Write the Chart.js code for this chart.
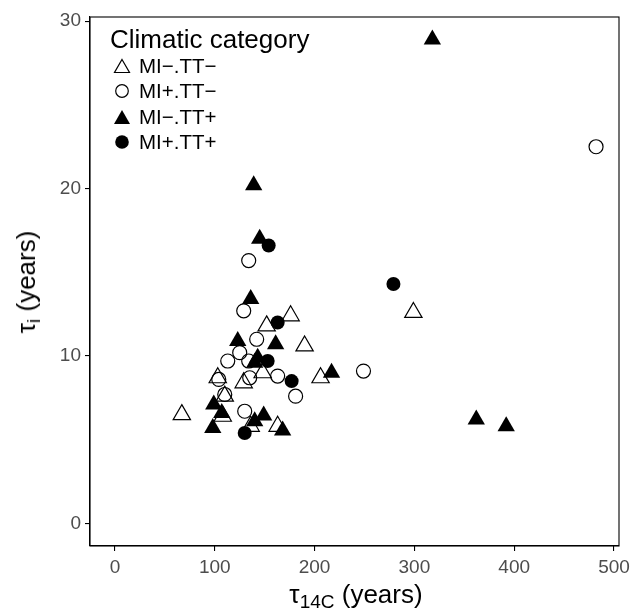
<!DOCTYPE html>
<html>
<head>
<meta charset="utf-8">
<script src="https://cdn.jsdelivr.net/npm/chart.js@4.4.1/dist/chart.umd.min.js"></script>
<style>
  html, body { margin: 0; padding: 0; background: #fff; }
  #wrap { position: relative; width: 635px; height: 614px; font-family: "Liberation Sans", Arial, sans-serif; }
  #c { position: absolute; left: 0; top: 0; }
  .lg { position: absolute; color: #000; white-space: nowrap; }
  .lg-title { left: 110px; top: 24px; font-size: 26px; line-height: 30px; }
  .lg-item { left: 113px; font-size: 20.5px; line-height: 24px; height: 24px; }
  .lg-item svg { position: absolute; left: 0; top: 4px; }
  .lg-item span { position: absolute; left: 26px; top: 0; }
  .axt { position: absolute; font-size: 26px; line-height: 30px; color: #000; white-space: nowrap; }
  .axt sub { font-size: 19px; vertical-align: -5px; }
</style>
</head>
<body>
<div id="wrap">
  <canvas id="c" width="635" height="614"></canvas>
  <div class="lg lg-title">Climatic category</div>
  <div class="lg lg-item" style="top:54px"><svg width="18" height="16"><polygon points="9,1.5 16.5,14.5 1.5,14.5" fill="none" stroke="#000" stroke-width="1.2"/></svg><span>MI−.TT−</span></div>
  <div class="lg lg-item" style="top:79px"><svg width="18" height="16"><circle cx="9" cy="8" r="6.3" fill="none" stroke="#000" stroke-width="1.2"/></svg><span>MI+.TT−</span></div>
  <div class="lg lg-item" style="top:105px"><svg width="18" height="16"><polygon points="9,1 17,15 1,15" fill="#000"/></svg><span>MI−.TT+</span></div>
  <div class="lg lg-item" style="top:130px"><svg width="18" height="16"><circle cx="9" cy="8" r="6.8" fill="#000"/></svg><span>MI+.TT+</span></div>
  <div class="axt" style="left:356px; top:598px; transform: translate(-50%, -50%);">τ<sub>14C</sub> (years)</div>
  <div class="axt" style="left:30px; top:282px; transform: translate(-50%, -50%) rotate(-90deg);">τ<sub>i</sub> (years)</div>
</div>
<script>
// --- DATA ---
const xTicks = [0, 100, 200, 300, 400, 500];
const yTicks = [0, 10, 20, 30];

// MI-.TT- (open triangles)
const openTriX = [67, 103, 108, 110, 129, 136, 148, 152, 163, 176, 190, 206, 299];
const openTriY = [6.5, 8.7, 6.4, 7.6, 8.4, 5.8, 9.0, 11.8, 5.8, 12.4, 10.6, 8.7, 12.6];

// MI+.TT- (open circles)
const openCirX = [104, 110, 113, 125, 129, 130, 134, 135, 134, 142, 163, 181, 249, 482];
const openCirY = [8.6, 7.7, 9.7, 10.2, 12.7, 6.7, 15.7, 8.7, 9.7, 11.0, 8.8, 7.6, 9.1, 22.5];

// MI-.TT+ (filled triangles)
const fillTriX = [98, 99, 107, 123, 136, 139, 140, 143, 140, 145, 149, 161, 168, 217, 318, 362, 392];
const fillTriY = [5.7, 7.1, 6.6, 10.9, 13.4, 20.2, 9.6, 9.9, 6.1, 17.0, 6.45, 10.7, 5.55, 9.0, 28.9, 6.2, 5.8];

// MI+.TT+ (filled circles)
const fillCirX = [130, 153, 154, 163, 177, 279];
const fillCirY = [5.4, 9.7, 16.6, 12.0, 8.5, 14.3];

const pts = (xs, ys) => xs.map((x, i) => ({ x: x, y: ys[i] }));

// panel border on all four sides
const frame = {
  id: 'frame',
  afterDraw(chart) {
    const a = chart.chartArea, ctx = chart.ctx;
    ctx.save();
    ctx.strokeStyle = '#000';
    ctx.lineWidth = 1.1;
    ctx.strokeRect(a.left, a.top, a.right - a.left, a.bottom - a.top);
    ctx.restore();
  }
};

const tickFont = { family: 'Liberation Sans', size: 19 };

new Chart(document.getElementById('c'), {
  type: 'scatter',
  data: {
    datasets: [
      { label: 'MI−.TT+', data: pts(fillTriX, fillTriY), pointStyle: 'triangle', pointRadius: 10,
        backgroundColor: '#000', borderColor: '#000', borderWidth: 0 },
      { label: 'MI−.TT−', data: pts(openTriX, openTriY), pointStyle: 'triangle', pointRadius: 10,
        backgroundColor: 'rgba(255,255,255,0)', borderColor: '#000', borderWidth: 1.2 },
      { label: 'MI+.TT−', data: pts(openCirX, openCirY), pointStyle: 'circle', pointRadius: 7,
        backgroundColor: 'rgba(255,255,255,0)', borderColor: '#000', borderWidth: 1.2 },
      { label: 'MI+.TT+', data: pts(fillCirX, fillCirY), pointStyle: 'circle', pointRadius: 7,
        backgroundColor: '#000', borderColor: '#000', borderWidth: 0 }
    ]
  },
  options: {
    responsive: false,
    animation: false,
    events: [],
    layout: { padding: { left: 0, right: 15, top: 17, bottom: 0 } },
    plugins: { legend: { display: false }, tooltip: { enabled: false } },
    scales: {
      x: {
        type: 'linear', min: -25, max: 505,
        afterBuildTicks: (s) => { s.ticks = xTicks.map(v => ({ value: v })); },
        afterFit: (s) => { s.height = 68; },
        grid: { drawOnChartArea: false, drawTicks: true, tickLength: 5, color: '#000', lineWidth: 1.1 },
        border: { display: true, color: '#000', width: 1.1 },
        ticks: { color: '#4d4d4d', font: tickFont, padding: 5 }
      },
      y: {
        type: 'linear', min: -1.35, max: 30.25,
        afterBuildTicks: (s) => { s.ticks = yTicks.map(v => ({ value: v })); },
        afterFit: (s) => { s.width = 90; },
        grid: { drawOnChartArea: false, drawTicks: true, tickLength: 5, color: '#000', lineWidth: 1.1 },
        border: { display: true, color: '#000', width: 1.1 },
        ticks: { color: '#4d4d4d', font: tickFont, padding: 4 }
      }
    }
  },
  plugins: [frame]
});
</script>
</body>
</html>
